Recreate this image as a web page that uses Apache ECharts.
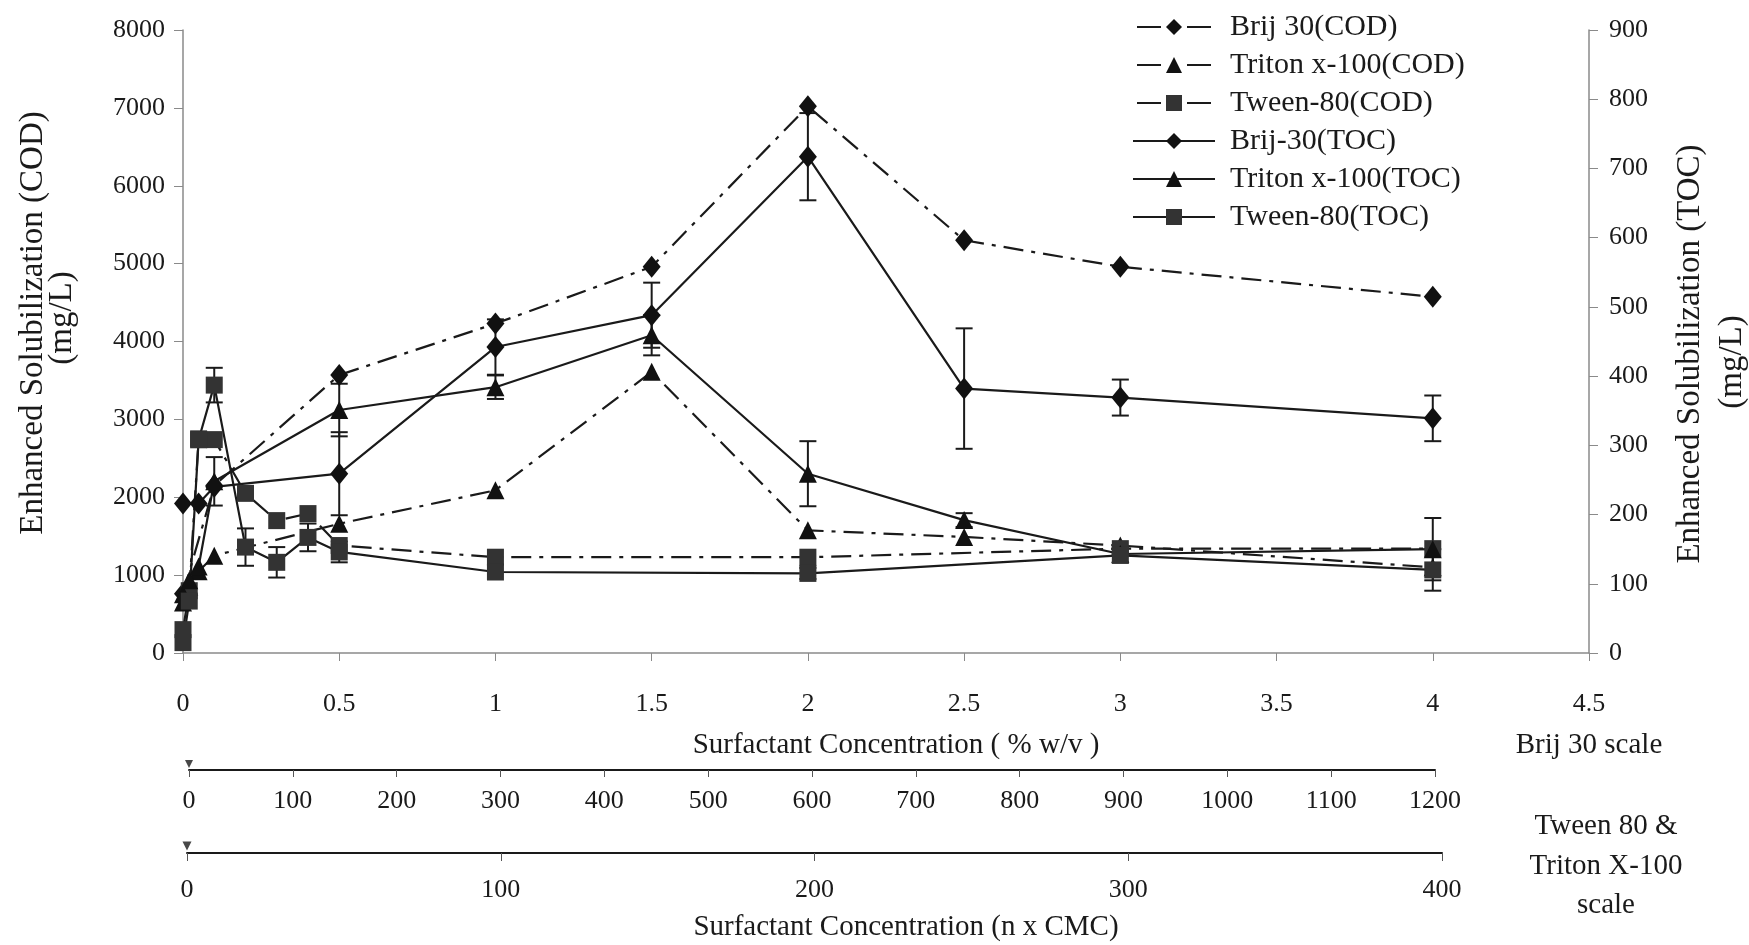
<!DOCTYPE html>
<html>
<head>
<meta charset="utf-8">
<title>Enhanced Solubilization</title>
<script src="https://cdn.jsdelivr.net/npm/echarts@6/dist/echarts.min.js"></script>
<style>
  html, body { margin: 0; padding: 0; background: #fff; }
  #chart { width: 1749px; height: 945px; }
</style>
</head>
<body>
<div id="chart"></div>
<script>
// surfactant concentration (% w/v) of each point, per series
var brijCodX = [0, 0.1, 0.5, 1, 1.5, 2, 2.5, 3, 4];
var brijCod = [760, 2150, 3570, 4230, 4960, 7020, 5300, 4960, 4575];
var brijTocX = [0, 0.05, 0.1, 0.5, 1, 1.5, 2, 2.5, 3, 4];
var brijToc = [216, 216, 240, 259, 442, 488, 717, 382, 369, 339];
var brijTocErr = [0, 0, 0, 60, 40, 47, 63, 87, 26, 33];

var tritonX = [0, 0.02, 0.05, 0.1, 0.5, 1, 1.5, 2, 2.5, 3, 4];
var tritonCod = [650, 850, 1050, 1250, 1660, 2090, 3610, 1575, 1490, 1380, 1100];
var tritonToc = [85, 105, 125, 248, 351, 384, 459, 259, 192, 143, 150];
var tritonTocErr = [0, 0, 0, 35, 38, 17, 29, 47, 10, 0, 45];

var tweenX = [0, 0.02, 0.05, 0.1, 0.2, 0.3, 0.4, 0.5, 1, 2, 3, 4];
var tweenCod = [300, 800, 2750, 2740, 2050, 1700, 1790, 1380, 1230, 1230, 1340, 1340];
var tweenToc = [15, 75, 308, 387, 153, 131, 167, 146, 117, 115, 141, 120];
var tweenTocErr = [0, 0, 0, 25, 27, 22, 20, 15, 0, 8, 10, 30];

var codNames = ['Brij 30(COD)', 'Triton x-100(COD)', 'Tween-80(COD)'];
var tocNames = ['Brij-30(TOC)', 'Triton x-100(TOC)', 'Tween-80(TOC)'];

// secondary concentration scales under the plot
var brijScale = [0, 1200, 100];  // min, max, step
var cmcScale = [0, 400, 100];

var serif = 'Liberation Serif';
var ink = '#1a1a1a';
var codDash = [20, 8, 4, 8];

function pairs(xs, ys) {
  return xs.map(function (x, i) { return [x, ys[i]]; });
}
function errPairs(xs, ys, es) {
  var out = [];
  xs.forEach(function (x, i) {
    if (es[i]) out.push([x, ys[i] - es[i], ys[i] + es[i]]);
  });
  return out;
}

// error bar with caps
function errRender(params, api) {
  var x = api.value(0);
  var lo = api.coord([x, api.value(1)]);
  var hi = api.coord([x, api.value(2)]);
  var w = 8.5;
  var st = { stroke: ink, lineWidth: 2, fill: null };
  return {
    type: 'group',
    children: [
      { type: 'line', shape: { x1: lo[0], y1: lo[1], x2: hi[0], y2: hi[1] }, style: st },
      { type: 'line', shape: { x1: lo[0] - w, y1: lo[1], x2: lo[0] + w, y2: lo[1] }, style: st },
      { type: 'line', shape: { x1: hi[0] - w, y1: hi[1], x2: hi[0] + w, y2: hi[1] }, style: st }
    ]
  };
}

function lineSeries(name, data, yIdx, symbol, size, dashed) {
  return {
    name: name,
    type: 'line',
    xAxisIndex: 0,
    yAxisIndex: yIdx,
    data: data,
    symbol: symbol,
    symbolSize: size,
    z: 3,
    itemStyle: { color: symbol === 'rect' ? '#333' : '#111' },
    lineStyle: { color: ink, width: 2.2, type: dashed ? codDash : 'solid' }
  };
}

function errSeries(data) {
  return {
    type: 'custom',
    xAxisIndex: 0,
    yAxisIndex: 1,
    renderItem: errRender,
    data: data,
    z: 2,
    silent: true
  };
}

function label(text, x, y, size, rot) {
  return {
    type: 'text',
    x: x,
    y: y,
    rotation: rot || 0,
    style: {
      text: text,
      fontFamily: serif,
      fontSize: size,
      fill: ink,
      textAlign: 'center',
      textVerticalAlign: 'middle'
    }
  };
}

function plain(v) { return String(v); }

// legend: COD entries show "— ◆ —", TOC entries a solid line
var legendData = codNames.map(function (n) {
  return { name: n, lineStyle: { type: [24, 26], dashOffset: 46 } };
}).concat(tocNames.map(function (n) { return { name: n }; }));

var chart = echarts.init(document.getElementById('chart'));
var tickFont = { fontFamily: serif, fontSize: 26, color: ink, formatter: plain };

chart.setOption({
  animation: false,
  backgroundColor: '#fff',
  grid: [
    { left: 183, right: 160, top: 30, bottom: 292 },
    { left: 189, right: 314, top: 769, height: 1 },
    { left: 187, right: 307, top: 852, height: 1 }
  ],
  legend: {
    orient: 'vertical',
    left: 1127,
    top: 7,
    itemWidth: 82,
    itemHeight: 20,
    itemGap: 8,
    data: legendData,
    textStyle: { fontFamily: serif, fontSize: 30, color: ink, lineHeight: 30, padding: [0, 0, 0, 10] }
  },
  xAxis: [
    {
      gridIndex: 0, type: 'value', min: 0, max: 4.5, interval: 0.5,
      axisLine: { onZero: false, lineStyle: { color: '#8a8a8a', width: 1.5 } },
      axisTick: { length: 8, lineStyle: { color: '#8a8a8a' } },
      axisLabel: Object.assign({ margin: 38 }, tickFont),
      splitLine: { show: false }
    },
    {
      gridIndex: 1, type: 'value', min: brijScale[0], max: brijScale[1], interval: brijScale[2],
      axisLine: { onZero: false, lineStyle: { color: ink, width: 2 } },
      axisTick: { length: 7, lineStyle: { color: '#555' } },
      axisLabel: Object.assign({ margin: 18 }, tickFont),
      splitLine: { show: false }
    },
    {
      gridIndex: 2, type: 'value', min: cmcScale[0], max: cmcScale[1], interval: cmcScale[2],
      axisLine: { onZero: false, lineStyle: { color: ink, width: 2 } },
      axisTick: { length: 8, lineStyle: { color: '#555' } },
      axisLabel: Object.assign({ margin: 24 }, tickFont),
      splitLine: { show: false }
    }
  ],
  yAxis: [
    {
      gridIndex: 0, type: 'value', min: 0, max: 8000, interval: 1000, position: 'left',
      axisLine: { show: true, lineStyle: { color: '#8a8a8a', width: 1.5 } },
      axisTick: { show: true, length: 9, lineStyle: { color: '#8a8a8a' } },
      axisLabel: Object.assign({ margin: 18 }, tickFont),
      splitLine: { show: false }
    },
    {
      gridIndex: 0, type: 'value', min: 0, max: 900, interval: 100, position: 'right',
      axisLine: { show: true, lineStyle: { color: '#8a8a8a', width: 1.5 } },
      axisTick: { show: true, length: 9, lineStyle: { color: '#8a8a8a' } },
      axisLabel: Object.assign({ margin: 20 }, tickFont),
      splitLine: { show: false }
    },
    { gridIndex: 1, type: 'value', min: 0, max: 1, show: false },
    { gridIndex: 2, type: 'value', min: 0, max: 1, show: false }
  ],
  graphic: [
    label('Enhanced Solubilization (COD)', 33, 323, 33, Math.PI / 2),
    label('(mg/L)', 62, 318, 33, Math.PI / 2),
    label('Enhanced Solubilization (TOC)', 1690, 354, 33, Math.PI / 2),
    label('(mg/L)', 1732, 362, 33, Math.PI / 2),
    label('Surfactant Concentration ( % w/v )', 896, 745, 29),
    label('Brij 30 scale', 1589, 745, 29),
    label('Surfactant Concentration (n x CMC)', 906, 927, 29),
    label('Tween 80 &', 1606, 826, 29),
    label('Triton X-100', 1606, 866, 29),
    label('scale', 1606, 905, 29)
  ],
  series: [
    lineSeries(codNames[0], pairs(brijCodX, brijCod), 0, 'diamond', [18, 22], true),
    lineSeries(codNames[1], pairs(tritonX, tritonCod), 0, 'triangle', 18, true),
    lineSeries(codNames[2], pairs(tweenX, tweenCod), 0, 'rect', 17, true),
    lineSeries(tocNames[0], pairs(brijTocX, brijToc), 1, 'diamond', [18, 22], false),
    lineSeries(tocNames[1], pairs(tritonX, tritonToc), 1, 'triangle', 18, false),
    lineSeries(tocNames[2], pairs(tweenX, tweenToc), 1, 'rect', 17, false),
    errSeries(errPairs(brijTocX, brijToc, brijTocErr)),
    errSeries(errPairs(tritonX, tritonToc, tritonTocErr)),
    errSeries(errPairs(tweenX, tweenToc, tweenTocErr)),
    {
      type: 'scatter', xAxisIndex: 1, yAxisIndex: 2, data: [[brijScale[0], 0]],
      symbol: 'triangle', symbolRotate: 180, symbolSize: 8, symbolOffset: [0, -6],
      itemStyle: { color: ink }, silent: true
    },
    {
      type: 'scatter', xAxisIndex: 2, yAxisIndex: 3, data: [[cmcScale[0], 0]],
      symbol: 'triangle', symbolRotate: 180, symbolSize: 9, symbolOffset: [0, -7],
      itemStyle: { color: ink }, silent: true
    }
  ]
});
</script>
</body>
</html>
